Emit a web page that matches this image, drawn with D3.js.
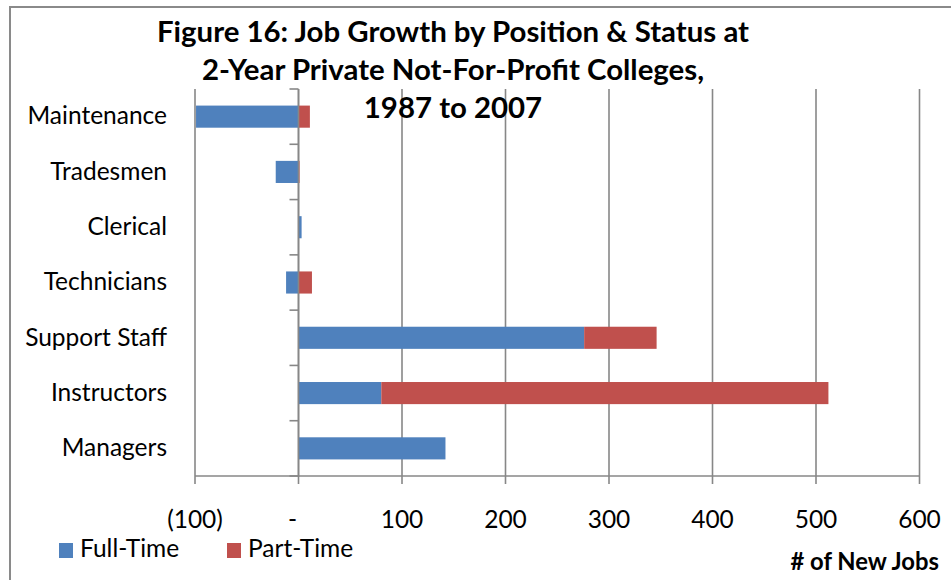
<!DOCTYPE html>
<html>
<head>
<meta charset="utf-8">
<script src="https://cdn.jsdelivr.net/npm/d3@7"></script>
<style>
  html, body { margin: 0; padding: 0; background: #fff; }
  svg { display: block; }
  text { font-family: Lato, "Open Sans", sans-serif; fill: #000; }
</style>
</head>
<body>
<svg id="chart" width="951" height="580"></svg>
<script>
// ---- data ----
const categories = ["Maintenance", "Tradesmen", "Clerical", "Technicians", "Support Staff", "Instructors", "Managers"];
const fullTime = [-99, -22, 3, -12, 276, 80, 142];
const partTime = [11, 1, 0, 13, 70, 432, 0];
const seriesNames = ["Full-Time", "Part-Time"];
const seriesColors = ["#4F81BD", "#C0504D"];
const xTicks = [-100, 0, 100, 200, 300, 400, 500, 600];
const titleLines = ["Figure 16: Job Growth by Position & Status at", "2-Year Private Not-For-Profit Colleges,", "1987 to 2007"];
const xAxisTitle = "# of New Jobs";

// ---- layout ----
const svg = d3.select("#chart");
const W = 951, H = 580;
const plot = { left: 195, right: 919.5, top: 89, bottom: 476 };
const gridColor = "#878787";

// outer chart border
svg.append("path")
  .attr("d", `M10,${H + 5} L10,7 L${W + 5},7`)
  .attr("fill", "none").attr("stroke", "#8a8a8a").attr("stroke-width", 2);

const x = d3.scaleLinear().domain([-100, 600]).range([plot.left, plot.right]);
const y = d3.scaleBand().domain(categories).range([plot.top, plot.bottom]).padding(0);
const barH = y.step() * 0.4;

// gridlines (extend below axis as tick marks)
svg.append("g").selectAll("line").data(xTicks).join("line")
  .attr("x1", d => x(d)).attr("x2", d => x(d))
  .attr("y1", plot.top).attr("y2", plot.bottom + 8)
  .attr("stroke", gridColor).attr("stroke-width", 1.6);

// bottom axis line
svg.append("line")
  .attr("x1", plot.left).attr("x2", plot.right)
  .attr("y1", plot.bottom).attr("y2", plot.bottom)
  .attr("stroke", gridColor).attr("stroke-width", 1.6);

// stacked data (positive and negative stacked separately from zero)
const rows = categories.map((c, i) => {
  const vals = [fullTime[i], partTime[i]];
  let pos = 0, neg = 0;
  return vals.map((v, s) => {
    let x0, x1;
    if (v >= 0) { x0 = pos; x1 = pos + v; pos = x1; }
    else { x0 = neg + v; x1 = neg; neg = x0; }
    return { cat: c, s, x0, x1, v };
  });
}).flat().filter(d => d.v !== 0);

svg.append("g").selectAll("rect").data(rows).join("rect")
  .attr("x", d => x(d.x0))
  .attr("width", d => x(d.x1) - x(d.x0))
  .attr("y", d => y(d.cat) + (y.step() - barH) / 2)
  .attr("height", barH)
  .attr("fill", d => seriesColors[d.s]);

// category axis at zero
const yAxisG = svg.append("g");
yAxisG.append("line")
  .attr("x1", x(0)).attr("x2", x(0))
  .attr("y1", plot.top).attr("y2", plot.bottom + 1)
  .attr("stroke", gridColor).attr("stroke-width", 1.6);
const bounds = d3.range(categories.length + 1).map(i => plot.top + i * y.step());
yAxisG.selectAll("line.tk").data(bounds).join("line").attr("class", "tk")
  .attr("x1", x(0) - 9).attr("x2", x(0))
  .attr("y1", d => d).attr("y2", d => d)
  .attr("stroke", gridColor).attr("stroke-width", 1.6);

// category labels
svg.append("g").selectAll("text").data(categories).join("text")
  .attr("x", 167)
  .attr("y", d => y(d) + y.step() / 2 + 7.8)
  .attr("text-anchor", "end")
  .attr("font-size", 24.5)
  .text(d => d);

// x tick labels
const fmt = d => d < 0 ? `(${Math.abs(d)})` : (d === 0 ? "-" : String(d));
svg.append("g").selectAll("text").data(xTicks).join("text")
  .attr("x", d => x(d) + (d === 0 ? -6 : 0))
  .attr("y", 528)
  .attr("text-anchor", "middle")
  .attr("font-size", 24.5)
  .text(fmt);

// title
const titleBase = [41.5, 80, 118];
svg.append("g").selectAll("text").data(titleLines).join("text")
  .attr("x", 453)
  .attr("y", (d, i) => titleBase[i])
  .attr("text-anchor", "middle")
  .attr("font-size", 29.4)
  .attr("font-weight", "bold")
  .text(d => d);

// legend
const legendX = [59, 227];
const lg = svg.append("g").selectAll("g").data(seriesNames).join("g")
  .attr("transform", (d, i) => `translate(${legendX[i]},543)`);
lg.append("rect").attr("width", 14).attr("height", 15).attr("fill", (d, i) => seriesColors[i]);
lg.append("text").attr("x", 21).attr("y", 14).attr("font-size", 24.5).text(d => d);

// x axis title
svg.append("text")
  .attr("x", 939).attr("y", 570)
  .attr("text-anchor", "end")
  .attr("font-size", 23.8)
  .attr("font-weight", "bold")
  .text(xAxisTitle);
</script>
</body>
</html>
